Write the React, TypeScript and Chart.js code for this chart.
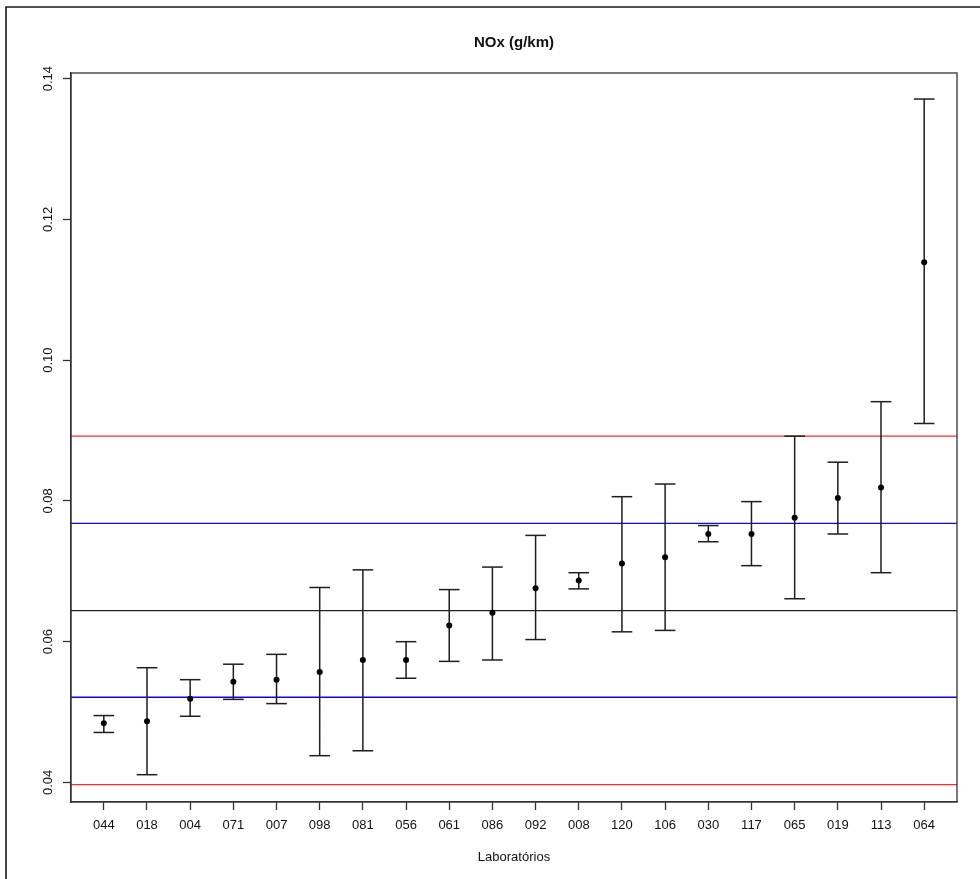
import React, { useEffect, useRef } from "react";
import { Chart, registerables } from "chart.js";

Chart.register(...registerables);

const labs = ["044", "018", "004", "071", "007", "098", "081", "056", "061", "086", "092", "008", "120", "106", "030", "117", "065", "019", "113", "064"];
const means = [0.0484, 0.0487, 0.0519, 0.0543, 0.0546, 0.0557, 0.0574, 0.0574, 0.0623, 0.0641, 0.0676, 0.0687, 0.0711, 0.0720, 0.0753, 0.0753, 0.0776, 0.0804, 0.0819, 0.1139];
const lower = [0.0471, 0.0411, 0.0494, 0.0518, 0.0512, 0.0438, 0.0445, 0.0548, 0.0572, 0.0574, 0.0603, 0.0675, 0.0614, 0.0616, 0.0742, 0.0708, 0.0661, 0.0753, 0.0698, 0.0910];
const upper = [0.0495, 0.0563, 0.0546, 0.0568, 0.0582, 0.0677, 0.0702, 0.0600, 0.0674, 0.0706, 0.0751, 0.0698, 0.0806, 0.0824, 0.0765, 0.0799, 0.0892, 0.0855, 0.0941, 0.1371];

const yTickValues = [0.04, 0.06, 0.08, 0.1, 0.12, 0.14];
const yTickLabels = ["0.04", "0.06", "0.08", "0.10", "0.12", "0.14"];

const refCenter = 0.0644;
const refBlue = [0.0521, 0.0768];
const refRed = [0.0397, 0.0892];

const xMin = 0.24;
const xMax = 20.76;
const yMin = 0.03722;
const yMax = 0.1408;

const titleText = "NOx (g/km)";
const xTitle = "Laboratórios";

const FONT = "'Liberation Sans', Arial, Helvetica, sans-serif";

const decor = {
  id: "decor",
  beforeDraw(chart: any) {
    const ctx = chart.ctx;
    ctx.save();
    ctx.fillStyle = "#ffffff";
    ctx.fillRect(0, 0, chart.width, chart.height);
    ctx.strokeStyle = "#1a1a1a";
    ctx.lineWidth = 1.6;
    ctx.beginPath();
    ctx.moveTo(6, chart.height + 2);
    ctx.lineTo(6, 7);
    ctx.lineTo(chart.width + 2, 7);
    ctx.stroke();
    ctx.restore();
  },
  afterDraw(chart: any) {
    const ctx = chart.ctx;
    const a = chart.chartArea;
    ctx.save();
    ctx.strokeStyle = "#333333";
    ctx.lineWidth = 1.3;
    ctx.strokeRect(a.left, a.top, a.right - a.left, a.bottom - a.top);
    ctx.fillStyle = "#111111";
    ctx.font = "bold 15px " + FONT;
    ctx.textAlign = "center";
    ctx.textBaseline = "middle";
    ctx.fillText(titleText, (a.left + a.right) / 2, 43);
    ctx.restore();
  },
};

function refLine(v: number, color: string) {
  return {
    type: "line" as const,
    data: [
      { x: xMin, y: v },
      { x: xMax, y: v },
    ],
    borderColor: color,
    borderWidth: 1.3,
    pointRadius: 0,
    showLine: true,
    order: 5,
  };
}

export default function App() {
  const ref = useRef<HTMLCanvasElement | null>(null);

  useEffect(() => {
    if (!ref.current) return;
    const whisk: any[] = [];
    const caps: any[] = [];
    labs.forEach((_, i) => {
      whisk.push({ x: i + 1, y: lower[i] });
      whisk.push({ x: i + 1, y: upper[i] });
      whisk.push({ x: i + 1, y: null });
      caps.push({ x: i + 1, y: lower[i] });
      caps.push({ x: i + 1, y: upper[i] });
    });
    const pts = means.map((m, i) => ({ x: i + 1, y: m }));

    const chart = new Chart(ref.current, {
      type: "scatter",
      data: {
        datasets: [
          {
            data: pts,
            pointStyle: "circle",
            pointRadius: 3,
            pointBackgroundColor: "#000000",
            pointBorderWidth: 0,
            showLine: false,
            order: 0,
          } as any,
          {
            data: caps,
            pointStyle: "line",
            pointRadius: 10.3,
            pointBorderColor: "#1e1e1e",
            pointBorderWidth: 1.5,
            showLine: false,
            order: 1,
          },
          {
            type: "line",
            data: whisk,
            borderColor: "#1e1e1e",
            borderWidth: 1.5,
            pointRadius: 0,
            spanGaps: false,
            showLine: true,
            order: 2,
          },
          refLine(refCenter, "#222222"),
          refLine(refBlue[0], "#0a0ae0"),
          refLine(refBlue[1], "#0a0ae0"),
          refLine(refRed[0], "#ff2a2a"),
          refLine(refRed[1], "#ff2a2a"),
        ] as any,
      },
      options: {
        animation: false,
        responsive: false,
        devicePixelRatio: 1,
        layout: { padding: { top: 73, left: 0, right: 23, bottom: 0 } },
        plugins: {
          legend: { display: false },
          title: { display: false },
          tooltip: { enabled: false },
        },
        scales: {
          x: {
            type: "linear",
            position: "bottom",
            min: xMin,
            max: xMax,
            afterBuildTicks: (scale: any) => {
              scale.ticks = labs.map((_, i) => ({ value: i + 1 }));
            },
            afterFit: (scale: any) => {
              scale.height = 77;
            },
            ticks: {
              autoSkip: false,
              maxRotation: 0,
              minRotation: 0,
              padding: 8,
              color: "#111111",
              font: { family: FONT, size: 13 },
              callback: (v: any) => labs[Math.round(Number(v)) - 1] ?? "",
            },
            grid: {
              drawOnChartArea: false,
              drawTicks: true,
              tickLength: 8,
              tickColor: "#333333",
              tickWidth: 1.3,
            },
            border: { display: true, color: "#333333", width: 1.3 },
            title: {
              display: true,
              text: xTitle,
              color: "#111111",
              font: { family: FONT, size: 13 },
              padding: { top: 0, bottom: 14 },
            },
          },
          y: {
            type: "linear",
            position: "left",
            min: yMin,
            max: yMax,
            afterBuildTicks: (scale: any) => {
              scale.ticks = yTickValues.map((v) => ({ value: v }));
            },
            afterFit: (scale: any) => {
              scale.width = 71;
            },
            ticks: {
              minRotation: 90,
              maxRotation: 90,
              crossAlign: "center",
              padding: 2,
              color: "#111111",
              font: { family: FONT, size: 13 },
              callback: (v: any) => {
                const idx = yTickValues.findIndex((t) => Math.abs(t - Number(v)) < 1e-9);
                return idx >= 0 ? yTickLabels[idx] : "";
              },
            },
            grid: {
              drawOnChartArea: false,
              drawTicks: true,
              tickLength: 8,
              tickColor: "#333333",
              tickWidth: 1.3,
            },
            border: { display: true, color: "#333333", width: 1.3 },
          },
        },
      } as any,
      plugins: [decor],
    });
    return () => chart.destroy();
  }, []);

  return (
    <canvas
      ref={ref}
      width={980}
      height={879}
      style={{ position: "absolute", left: 0, top: 0, display: "block" }}
    />
  );
}
